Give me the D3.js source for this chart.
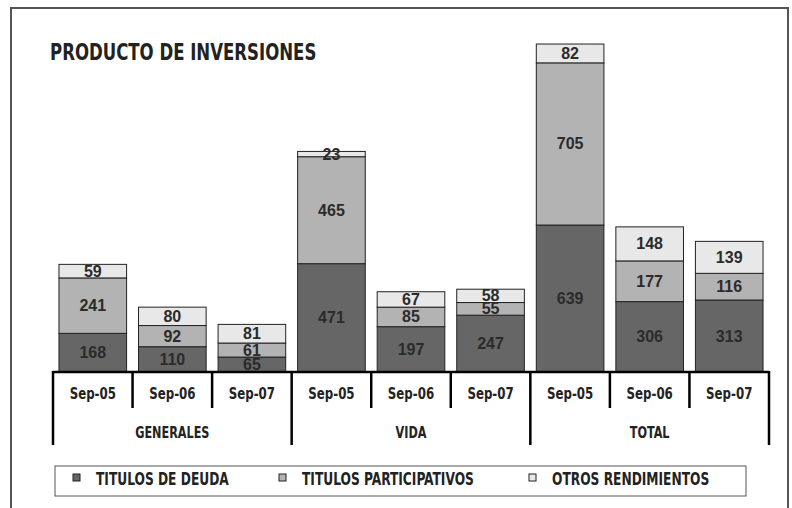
<!DOCTYPE html>
<html>
<head>
<meta charset="utf-8">
<script src="https://cdn.jsdelivr.net/npm/d3@7"></script>
<style>
  html, body { margin: 0; padding: 0; background: #fff; }
  svg { display: block; }
</style>
</head>
<body>
<div id="chart"></div>
<script>
// datos del gráfico
const grupos = ["GENERALES", "VIDA", "TOTAL"];
const periodos = ["Sep-05", "Sep-06", "Sep-07"];
const series = ["TITULOS DE DEUDA", "TITULOS PARTICIPATIVOS", "OTROS RENDIMIENTOS"];
// un valor por barra (grupo x periodo), en orden
const deuda = [168, 110, 65, 471, 197, 247, 639, 306, 313];
const participativos = [241, 92, 61, 465, 85, 55, 705, 177, 116];
const otros = [59, 80, 81, 23, 67, 58, 82, 148, 139];

const colores = ["#666666", "#b3b3b3", "#e8e8e8"];
const condensed = "'DejaVu Sans Condensed', 'DejaVu Sans', sans-serif";

// la fuente original es más estrecha: se comprime el texto a lo ancho
function estrechar(sel, factor) {
  sel.each(function () {
    const len = this.getComputedTextLength();
    d3.select(this)
      .attr("textLength", len * factor)
      .attr("lengthAdjust", "spacingAndGlyphs");
  });
}

const width = 792, height = 508;
const svg = d3.select("#chart").append("svg")
  .attr("width", width)
  .attr("height", height);

// marco exterior
svg.append("rect")
  .attr("x", 11).attr("y", 8)
  .attr("width", 777).attr("height", 520)
  .attr("fill", "#fff")
  .attr("stroke", "#555").attr("stroke-width", 2);

svg.append("text")
  .attr("x", 50).attr("y", 60)
  .attr("font-family", condensed)
  .attr("font-weight", "bold")
  .attr("font-size", 23)
  .attr("fill", "#222")
  .text("PRODUCTO DE INVERSIONES")
  .call(estrechar, 0.8);

// filas: una por barra
const filas = [];
grupos.forEach((g, gi) => {
  periodos.forEach((p, pi) => {
    const i = gi * periodos.length + pi;
    filas.push({ key: g + "|" + p, grupo: g, periodo: p, d: deuda[i], tp: participativos[i], o: otros[i] });
  });
});

const x = d3.scaleBand()
  .domain(filas.map((f) => f.key))
  .range([53, 769])
  .paddingInner(0.15)
  .paddingOuter(0.075);

const y = d3.scaleLinear()
  .domain([0, 1600])
  .range([372, 4]);

const stack = d3.stack().keys(["d", "tp", "o"]);
const capas = stack(filas);

const capa = svg.selectAll(".capa")
  .data(capas)
  .enter()
  .append("g")
  .attr("class", "capa")
  .attr("fill", (d, i) => colores[i]);

capa.selectAll("rect")
  .data((d) => d)
  .enter()
  .append("rect")
  .attr("x", (d) => x(d.data.key))
  .attr("y", (d) => y(d[1]))
  .attr("width", x.bandwidth())
  .attr("height", (d) => y(d[0]) - y(d[1]))
  .attr("stroke", "#222")
  .attr("stroke-width", 1);

// etiquetas de valores
capa.selectAll("text")
  .data((d) => d)
  .enter()
  .append("text")
  .attr("x", (d) => x(d.data.key) + x.bandwidth() / 2)
  .attr("y", (d) => (y(d[0]) + y(d[1])) / 2)
  .attr("text-anchor", "middle")
  .attr("dominant-baseline", "central")
  .attr("font-family", "'Liberation Sans', Arial, sans-serif")
  .attr("font-weight", "bold")
  .attr("font-size", 16)
  .attr("fill", "#2b2b2b")
  .text((d) => d[1] - d[0]);

// eje x con dos niveles
const paso = (769 - 53) / filas.length;
svg.append("line")
  .attr("x1", 53).attr("x2", 769)
  .attr("y1", 372).attr("y2", 372)
  .attr("stroke", "#000").attr("stroke-width", 2.5);

d3.range(filas.length + 1).forEach((i) => {
  const esGrupo = i % periodos.length === 0;
  svg.append("line")
    .attr("x1", 53 + i * paso).attr("x2", 53 + i * paso)
    .attr("y1", 371).attr("y2", esGrupo ? 445 : 408)
    .attr("stroke", "#000").attr("stroke-width", 2.5);
});

svg.selectAll(".tick-label")
  .data(filas)
  .enter()
  .append("text")
  .attr("class", "tick-label")
  .attr("x", (d) => x(d.key) + x.bandwidth() / 2)
  .attr("y", 393)
  .attr("text-anchor", "middle")
  .attr("dominant-baseline", "central")
  .attr("font-family", condensed)
  .attr("font-weight", "bold")
  .attr("font-size", 16)
  .attr("fill", "#222")
  .text((d) => d.periodo)
  .call(estrechar, 0.82);

svg.selectAll(".grupo-label")
  .data(grupos)
  .enter()
  .append("text")
  .attr("class", "grupo-label")
  .attr("x", (d, i) => 53 + (i + 0.5) * paso * periodos.length)
  .attr("y", 432)
  .attr("text-anchor", "middle")
  .attr("dominant-baseline", "central")
  .attr("font-family", condensed)
  .attr("font-weight", "bold")
  .attr("font-size", 16)
  .attr("fill", "#222")
  .text((d) => d)
  .call(estrechar, 0.78);

// leyenda
svg.append("rect")
  .attr("x", 55).attr("y", 466)
  .attr("width", 691).attr("height", 30)
  .attr("fill", "#fff")
  .attr("stroke", "#555").attr("stroke-width", 1);

const leyendaX = [73, 279, 529];
const item = svg.selectAll(".leyenda")
  .data(series)
  .enter()
  .append("g")
  .attr("class", "leyenda")
  .attr("transform", (d, i) => `translate(${leyendaX[i]}, 474)`);

item.append("rect")
  .attr("width", 7).attr("height", 7)
  .attr("fill", (d, i) => colores[i])
  .attr("stroke", "#222").attr("stroke-width", 1);

item.append("text")
  .attr("x", 23).attr("y", 11)
  .attr("font-family", condensed)
  .attr("font-weight", "bold")
  .attr("font-size", 17)
  .attr("fill", "#222")
  .text((d) => d)
  .call(estrechar, 0.8);
</script>
</body>
</html>
